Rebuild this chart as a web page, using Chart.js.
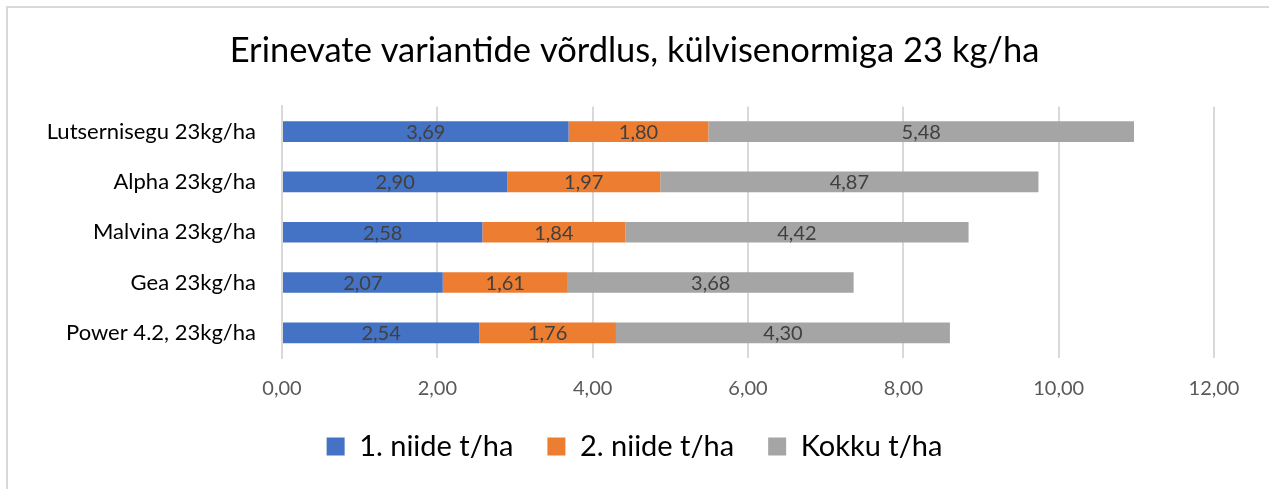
<!DOCTYPE html>
<html>
<head>
<meta charset="utf-8">
<script src="https://cdn.jsdelivr.net/npm/chart.js@4.4.0/dist/chart.umd.min.js"></script>
<style>
  html, body { margin: 0; padding: 0; background: #fff; }
  #wrap { position: relative; width: 1269px; height: 489px; overflow: hidden; }
  #frame { position: absolute; left: 6px; top: 6px; right: -10px; bottom: -10px; border: 2px solid #d9d9d9; pointer-events: none; }
</style>
</head>
<body>
<div id="wrap">
  <canvas id="niide" width="1269" height="489"></canvas>
  <div id="frame"></div>
</div>
<script>
// andmed
var categories = ['Lutsernisegu 23kg/ha', 'Alpha 23kg/ha', 'Malvina 23kg/ha', 'Gea 23kg/ha', 'Power 4.2, 23kg/ha'];
var niide1 = [3.69, 2.90, 2.58, 2.07, 2.54];
var niide2 = [1.80, 1.97, 1.84, 1.61, 1.76];
var kokku = [5.48, 4.87, 4.42, 3.68, 4.30];
var xTicks = [0, 2, 4, 6, 8, 10, 12];

var fontName = 'Lato, "Open Sans", sans-serif';

function fmt(v) {
  return v.toFixed(2).replace('.', ',');
}

// draws the value in the middle of every bar segment
var valueLabels = {
  id: 'valueLabels',
  afterDatasetsDraw: function(chart) {
    var ctx = chart.ctx;
    ctx.save();
    ctx.font = '20px ' + fontName;
    ctx.fillStyle = '#404040';
    ctx.textAlign = 'center';
    ctx.textBaseline = 'middle';
    chart.data.datasets.forEach(function(ds, i) {
      chart.getDatasetMeta(i).data.forEach(function(bar, j) {
        var mid = (bar.x + bar.base) / 2;
        ctx.fillText(fmt(ds.data[j]), mid, bar.y + 1);
      });
    });
    ctx.restore();
  }
};

Chart.defaults.font.family = fontName;

var chart = new Chart('niide', {
  type: 'bar',
  plugins: [valueLabels],
  data: {
    labels: categories,
    datasets: [
      { label: '1. niide t/ha', data: niide1, backgroundColor: '#4472C4' },
      { label: '2. niide t/ha', data: niide2, backgroundColor: '#ED7D31' },
      { label: 'Kokku t/ha', data: kokku, backgroundColor: '#A5A5A5' }
    ]
  },
  options: {
    indexAxis: 'y',
    responsive: false,
    animation: false,
    layout: { padding: { left: 0, right: 0, top: 0, bottom: 18 } },
    datasets: {
      bar: { barPercentage: 1, categoryPercentage: 0.41 }
    },
    scales: {
      x: {
        stacked: true,
        min: 0,
        max: 12,
        afterBuildTicks: function(axis) {
          axis.ticks = xTicks.map(function(v) { return { value: v }; });
        },
        afterFit: function(axis) { axis.height = 40; },
        grid: { color: '#d9d9d9', lineWidth: 2, drawTicks: false },
        border: { display: false },
        ticks: {
          padding: 19,
          color: '#595959',
          font: { size: 20 },
          callback: function(v) { return fmt(v); }
        }
      },
      y: {
        stacked: true,
        afterFit: function(axis) { axis.width = 282; },
        grid: { display: false, drawTicks: false },
        border: { display: true, color: '#d9d9d9', width: 2 },
        ticks: {
          padding: 26,
          color: '#000',
          font: { size: 22 }
        }
      },
      // empty right axis, only keeps the plot away from the right edge
      yRight: {
        type: 'category',
        position: 'right',
        labels: categories,
        afterFit: function(axis) { axis.width = 55; },
        grid: { display: false, drawTicks: false },
        border: { display: false },
        ticks: { display: false }
      }
    },
    plugins: {
      title: {
        display: true,
        text: 'Erinevate variantide võrdlus, külvisenormiga 23 kg/ha',
        color: '#000',
        font: { size: 34.5, weight: 'normal' },
        padding: { top: 30, bottom: 35 }
      },
      legend: {
        position: 'bottom',
        labels: {
          color: '#000',
          font: { size: 29 },
          boxWidth: 18,
          boxHeight: 18,
          padding: 34
        }
      },
      tooltip: { enabled: false }
    }
  }
});
</script>
</body>
</html>
